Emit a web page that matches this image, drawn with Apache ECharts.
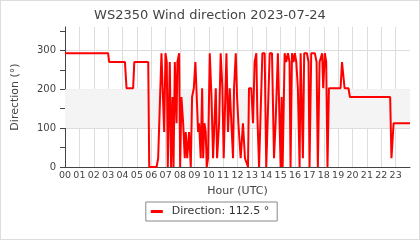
<!DOCTYPE html>
<html>
<head>
<meta charset="utf-8">
<script src="https://cdn.jsdelivr.net/npm/echarts@6/dist/echarts.min.js"></script>
<style>
html,body{margin:0;padding:0;background:#fff;}
#chart{width:420px;height:240px;box-sizing:border-box;border:1px solid #ddd;}
</style>
</head>
<body>
<div id="chart"></div>
<script>
// ---- data (hours UTC, wind direction in degrees) ----
const chartTitle = 'WS2350 Wind direction 2023-07-24';
const hours = [
  0, 3.0, 3.07, 4.17, 4.28, 4.74, 4.82, 5.79, 5.86, 6.37, 6.48, 6.55,
  6.71, 6.83, 6.90, 6.99, 7.08, 7.15, 7.29, 7.38, 7.48, 7.55, 7.64, 7.76, 7.82, 7.94,
  8.01, 8.10, 8.22, 8.33, 8.40, 8.50, 8.63, 8.75, 8.84, 8.96,
  9.07, 9.14, 9.26, 9.33, 9.44, 9.54, 9.61, 9.70, 9.79, 9.86, 9.95,
  10.07, 10.19, 10.30, 10.49, 10.58, 10.72, 10.83, 10.95,
  11.04, 11.23, 11.34, 11.46, 11.57, 11.69, 11.76, 11.88, 11.97,
  12.06, 12.22, 12.38, 12.52, 12.62, 12.73, 12.80, 12.96,
  13.08, 13.19, 13.31, 13.38, 13.50, 13.61, 13.73, 13.89,
  14.00, 14.12, 14.24, 14.40, 14.54, 14.65, 14.81, 14.93,
  15.00, 15.07, 15.14, 15.28, 15.39, 15.51, 15.62, 15.69, 15.79, 15.90, 15.99,
  16.09, 16.20, 16.32, 16.39, 16.48, 16.55, 16.64, 16.83, 16.94,
  17.01, 17.13, 17.38, 17.50, 17.59, 17.71, 17.80, 17.89, 17.96,
  18.08, 18.17, 18.26, 18.36, 19.17, 19.27, 19.37, 19.45, 19.72, 19.82,
  22.62, 22.71, 22.79, 22.86, 24.0
];
const directions = [
  292.5, 292.5, 270, 270, 202.5, 202.5, 270, 270, 0, 0, 22.5, 22.5,
  292.5, 292.5, 90, 292.5, 270, 0, 270, 0, 180, 0, 270, 112.5, 270, 292.5,
  0, 180, 112.5, 22.5, 90, 22.5, 90, 0, 180, 202.5,
  270, 270, 90, 112.5, 22.5, 202.5, 22.5, 112.5, 90, 0, 22.5,
  292.5, 180, 22.5, 202.5, 22.5, 112.5, 292.5, 202.5,
  22.5, 292.5, 90, 202.5, 202.5, 22.5, 202.5, 292.5, 180,
  112.5, 22.5, 112.5, 22.5, 22.5, 0, 202.5, 202.5,
  112.5, 270, 292.5, 135, 0, 0, 292.5, 292.5,
  0, 0, 292.5, 292.5, 22.5, 112.5, 292.5, 292.5,
  0, 180, 0, 292.5, 270, 292.5, 270, 0, 292.5, 270, 292.5,
  270, 202.5, 0, 292.5, 292.5, 22.5, 292.5, 292.5, 270,
  0, 292.5, 292.5, 270, 0, 270, 270, 292.5, 202.5,
  292.5, 270, 0, 202.5, 202.5, 270, 270, 202.5, 202.5, 180,
  180, 22.5, 22.5, 112.5, 112.5
];
const hourTickLabels = ['00','01','02','03','04','05','06','07','08','09','10','11',
  '12','13','14','15','16','17','18','19','20','21','22','23'];
const yTickLabels = [0, 100, 200, 300];
const bandRange = [100, 200];

const seriesName = 'Direction: ' + directions[directions.length - 1] + ' °';
const points = hours.map((h, i) => [h, directions[i]]);
const FONT = 'DejaVu Sans';

const chart = echarts.init(document.getElementById('chart'), null, {renderer: 'canvas'});
chart.setOption({
  animation: false,
  title: {
    text: chartTitle, left: 'center', top: 3,
    textStyle: {fontFamily: FONT, fontSize: 13, fontWeight: 'normal', color: '#444'}
  },
  legend: {
    data: [seriesName], left: 'center', top: 201,
    borderColor: '#888', borderWidth: 1, borderRadius: 0, padding: [4, 8, 4, 5],
    icon: 'rect', itemWidth: 12, itemHeight: 3,
    textStyle: {fontFamily: FONT, fontSize: 11, color: '#333', padding: [0, 0, 0, 4]}
  },
  grid: {left: 64, right: 9, top: 26, bottom: 72, containLabel: false},
  xAxis: {
    type: 'value', min: 0, max: 24, interval: 1,
    name: 'Hour (UTC)', nameLocation: 'middle', nameGap: 15,
    nameTextStyle: {fontFamily: FONT, fontSize: 11, color: '#444'},
    axisLine: {show: true, onZero: false, lineStyle: {color: '#444', width: 1}},
    axisTick: {show: false},
    axisLabel: {
      fontFamily: FONT, fontSize: 9.5, color: '#444', margin: 4, showMaxLabel: false,
      formatter: v => (v >= 0 && v < hourTickLabels.length) ? hourTickLabels[v] : ''
    },
    splitLine: {show: true, showMaxLine: false, lineStyle: {color: '#ddd', width: 1}}
  },
  yAxis: [{
    type: 'value', min: 0, max: 360, interval: 50,
    name: 'Direction (°)', nameLocation: 'middle', nameGap: 44,
    nameTextStyle: {fontFamily: FONT, fontSize: 11, color: '#444'},
    axisLine: {show: true, lineStyle: {color: '#444', width: 1}},
    axisTick: {show: true, length: 5, lineStyle: {color: '#444'}},
    axisLabel: {
      fontFamily: FONT, fontSize: 10, color: '#444', margin: 9, showMaxLabel: false,
      formatter: v => yTickLabels.indexOf(v) >= 0 ? String(v) : ''
    },
    splitLine: {show: false}
  }, {
    type: 'value', min: 0, max: 360, interval: 100, position: 'left',
    axisLine: {show: false}, axisTick: {show: false}, axisLabel: {show: false},
    splitLine: {show: true, showMinLine: false, showMaxLine: false, lineStyle: {color: '#ddd', width: 1}}
  }],
  series: [{
    name: seriesName, type: 'line', data: points, yAxisIndex: 0,
    showSymbol: false, symbol: 'none',
    lineStyle: {color: '#ff0000', width: 2},
    itemStyle: {color: '#ff0000'},
    markArea: {
      silent: true,
      itemStyle: {color: '#f4f4f4'},
      data: [[{yAxis: bandRange[0]}, {yAxis: bandRange[1]}]]
    },
    z: 3
  }]
});
</script>
</body>
</html>
